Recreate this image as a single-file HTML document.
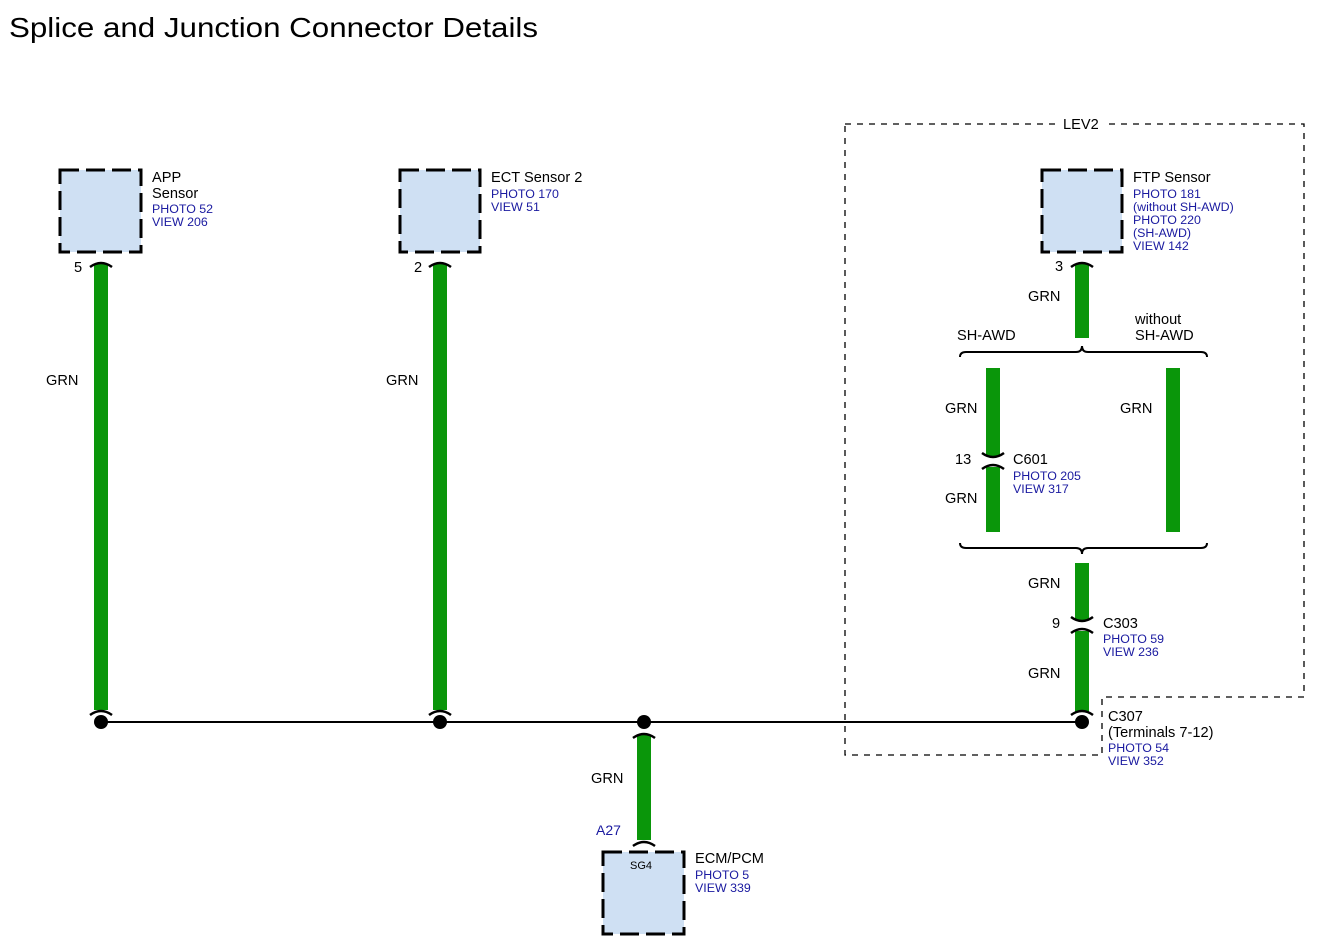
<!DOCTYPE html>
<html><head><meta charset="utf-8"><style>
html,body{margin:0;padding:0;background:#fff;}
svg{display:block;font-family:"Liberation Sans",Arial,sans-serif;}
.b{fill:#000;font-size:14.6px}
.l{fill:#1a1aa0;font-size:12.4px}
.box{fill:#cfe0f3;stroke:#000;stroke-width:3;stroke-dasharray:19 7}
.w{fill:#0a960a}
.cap{fill:none;stroke:#000;stroke-width:2.5}
</style></head><body>
<svg width="1318" height="951" viewBox="0 0 1318 951">
<text x="9" y="37" style="font-size:28px" fill="#000" textLength="529" lengthAdjust="spacingAndGlyphs">Splice and Junction Connector Details</text>

<path d="M845,124 H1304 V697 H1102 V755 H845 Z" fill="none" stroke="#000" stroke-width="1.3" stroke-dasharray="6 6"/>
<rect x="1056" y="114" width="52" height="18" fill="#fff"/>
<text x="1063" y="129" class="b">LEV2</text>

<rect class="box" x="60" y="170" width="81" height="82"/>
<rect class="box" x="400" y="170" width="80" height="82"/>
<rect class="box" x="1042" y="170" width="80" height="82"/>
<rect class="box" x="603" y="852" width="81" height="82"/>

<rect class="w" x="94" y="264" width="14" height="446"/>
<rect class="w" x="433" y="264" width="14" height="446"/>
<rect class="w" x="1075" y="264" width="14" height="74"/>
<rect class="w" x="986" y="368" width="14" height="88"/>
<rect class="w" x="986" y="467" width="14" height="65"/>
<rect class="w" x="1166" y="368" width="14" height="164"/>
<rect class="w" x="1075" y="563" width="14" height="57"/>
<rect class="w" x="1075" y="631" width="14" height="81"/>
<rect class="w" x="637" y="735" width="14" height="105"/>

<g class="cap">
<path d="M90,267 Q101,259 112,267"/>
<path d="M429,267 Q440,259 451,267"/>
<path d="M1071,267 Q1082,259 1093,267"/>
<path d="M90,715 Q101,707 112,715"/>
<path d="M429,715 Q440,707 451,715"/>
<path d="M1071,715 Q1082,707 1093,715"/>
<path d="M633,738 Q644,730 655,738"/>
<path d="M633,846 Q644,838 655,846"/>
<path d="M982,453 Q993,461 1004,453"/>
<path d="M982,469 Q993,461 1004,469"/>
<path d="M1071,617 Q1082,625 1093,617"/>
<path d="M1071,633 Q1082,625 1093,633"/>
</g>

<path d="M960,357 Q960,352 966,352 H1076 Q1082,352 1082,346 Q1082,352 1088,352 H1201 Q1207,352 1207,357" fill="none" stroke="#000" stroke-width="2"/>
<path d="M960,543 Q960,548 966,548 H1076 Q1082,548 1082,554 Q1082,548 1088,548 H1201 Q1207,548 1207,543" fill="none" stroke="#000" stroke-width="2"/>

<line x1="101" y1="722" x2="1082" y2="722" stroke="#000" stroke-width="2"/>
<circle cx="101" cy="722" r="7"/>
<circle cx="440" cy="722" r="7"/>
<circle cx="644" cy="722" r="7"/>
<circle cx="1082" cy="722" r="7"/>

<text x="152" y="182" class="b">APP</text>
<text x="152" y="198" class="b">Sensor</text>
<text x="152" y="213" class="l">PHOTO 52</text>
<text x="152" y="226" class="l">VIEW 206</text>
<text x="74" y="272" class="b">5</text>
<text x="46" y="385" class="b">GRN</text>

<text x="491" y="182" class="b">ECT Sensor 2</text>
<text x="491" y="198" class="l">PHOTO 170</text>
<text x="491" y="211" class="l">VIEW 51</text>
<text x="414" y="272" class="b">2</text>
<text x="386" y="385" class="b">GRN</text>

<text x="1133" y="182" class="b">FTP Sensor</text>
<text x="1133" y="198" class="l">PHOTO 181</text>
<text x="1133" y="211" class="l">(without SH-AWD)</text>
<text x="1133" y="224" class="l">PHOTO 220</text>
<text x="1133" y="237" class="l">(SH-AWD)</text>
<text x="1133" y="250" class="l">VIEW 142</text>
<text x="1055" y="271" class="b">3</text>
<text x="1028" y="301" class="b">GRN</text>
<text x="957" y="340" class="b">SH-AWD</text>
<text x="1135" y="324" class="b">without</text>
<text x="1135" y="340" class="b">SH-AWD</text>
<text x="945" y="413" class="b">GRN</text>
<text x="1120" y="413" class="b">GRN</text>
<text x="955" y="464" class="b">13</text>
<text x="1013" y="464" class="b">C601</text>
<text x="1013" y="480" class="l">PHOTO 205</text>
<text x="1013" y="493" class="l">VIEW 317</text>
<text x="945" y="503" class="b">GRN</text>
<text x="1028" y="588" class="b">GRN</text>
<text x="1052" y="628" class="b">9</text>
<text x="1103" y="628" class="b">C303</text>
<text x="1103" y="643" class="l">PHOTO 59</text>
<text x="1103" y="656" class="l">VIEW 236</text>
<text x="1028" y="678" class="b">GRN</text>
<text x="1108" y="721" class="b">C307</text>
<text x="1108" y="737" class="b">(Terminals 7-12)</text>
<text x="1108" y="752" class="l">PHOTO 54</text>
<text x="1108" y="765" class="l">VIEW 352</text>

<text x="591" y="783" class="b">GRN</text>
<text x="596" y="835" class="l" style="font-size:14px">A27</text>
<text x="630" y="869" class="b" style="font-size:11px">SG4</text>
<text x="695" y="863" class="b">ECM/PCM</text>
<text x="695" y="879" class="l">PHOTO 5</text>
<text x="695" y="892" class="l">VIEW 339</text>
</svg>
</body></html>
